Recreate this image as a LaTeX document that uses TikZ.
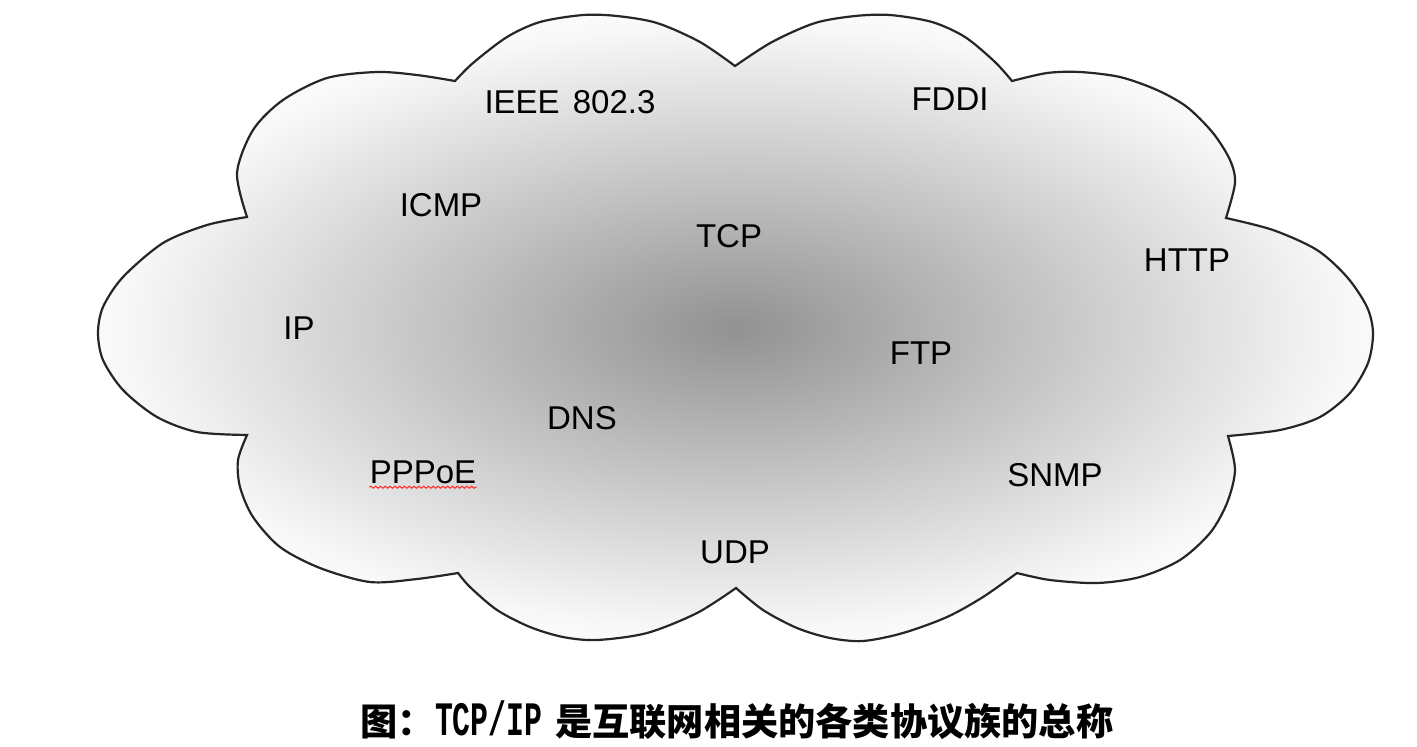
\documentclass[tikz,border=0pt]{standalone}
\usepackage{fontspec}
\usepackage{graphicx}
\setmainfont{Liberation Sans}
\setmonofont{Liberation Mono}
\newfontfamily\cjkfont{Noto Sans CJK SC}
\usetikzlibrary{decorations.pathmorphing}
\pgfdeclareradialshading{cloudfade}{\pgfpoint{0bp}{0bp}}{%
  color(0bp)=(black!43); color(24bp)=(black!3); color(25bp)=(black!2); color(50bp)=(black!2)}

\begin{document}
\begin{tikzpicture}[x=0.5pt, y=-0.5pt,
        proto/.style={inner sep=0pt, font=\fontsize{16.5}{16.5}\selectfont},
        spell/.style={red!85, line width=0.5pt, decorate,
            decoration={snake, segment length=2.4pt, amplitude=0.5pt}}]
        \fill [white] (0,0) rectangle (1417,746);
        \useasboundingbox (0,0) rectangle (1417,746);
        % cloud, one plot per puff
        \shadedraw [shading=cloudfade, draw=black!85, line width=1.1pt]
               plot [smooth] coordinates {(247,217) (237,173) (253,130) (283,100) (327,78) (377,72) (417,75) (455,81)}
            -- plot [smooth] coordinates {(455,81) (473,63) (507,37) (540,22) (583,15) (617,16) (657,23) (700,42) (735,66)}
            -- plot [smooth] coordinates {(735,66) (772,42) (815,23) (855,16) (890,15) (932,22) (965,37) (995,62) (1012,81)}
            -- plot [smooth] coordinates {(1012,81) (1047,73) (1080,72) (1120,77) (1157,90) (1187,107) (1213,133) (1230,160) (1235,183) (1226,218)}
            -- plot [smooth] coordinates {(1226,218) (1273,230) (1317,250) (1347,277) (1367,307) (1373,333) (1368,363) (1350,393) (1320,417) (1280,430) (1228,436)}
            -- plot [smooth] coordinates {(1228,436) (1235,470) (1227,503) (1210,533) (1180,560) (1140,577) (1097,583) (1050,580) (1017,573)}
            -- plot [smooth] coordinates {(1017,573) (983,597) (947,617) (903,633) (863,641) (830,638) (797,628) (763,610) (736,588)}
            -- plot [smooth] coordinates {(736,588) (697,613) (647,633) (597,640) (563,637) (530,627) (497,610) (470,587) (458,573)}
            -- plot [smooth] coordinates {(458,573) (417,579) (370,582) (320,568) (280,547) (253,517) (240,487) (238,460) (247,435)}
            -- plot [smooth] coordinates {(247,435) (197,432) (157,417) (123,390) (103,360) (98,333) (103,307) (123,277) (163,243) (207,225) (247,217)}
            -- cycle;
        \node [proto] (ieee) at (570,102) {IEEE\hspace{0.4em}802.3};
        \node [proto] (fddi) at (950,99) {FDDI};
        \node [proto] (icmp) at (441,205) {ICMP};
        \node [proto] (tcp) at (729,236) {TCP};
        \node [proto] (http) at (1187,260) {HTTP};
        \node [proto] (ip) at (299,328) {IP};
        \node [proto] (ftp) at (921,353) {FTP};
        \node [proto] (dns) at (582,418) {DNS};
        \node [proto] (pppoe) at (423,472) {PPPoE};
        \node [proto] (snmp) at (1055,475) {SNMP};
        \node [proto] (udp) at (735,552) {UDP};
        \draw [spell] ([yshift=-2pt]pppoe.base west) -- ([yshift=-2pt]pppoe.base east);
        \node [inner sep=0pt, font=\cjkfont\bfseries\fontsize{18.6}{18.6}\selectfont] (caption) at (737,720)
            {图：\scalebox{0.62}[1]{\ttfamily\bfseries\fontsize{24}{24}\selectfont TCP/IP}\hspace{0.35em}是互联网相关的各类协议族的总称};
\end{tikzpicture}
\end{document}
